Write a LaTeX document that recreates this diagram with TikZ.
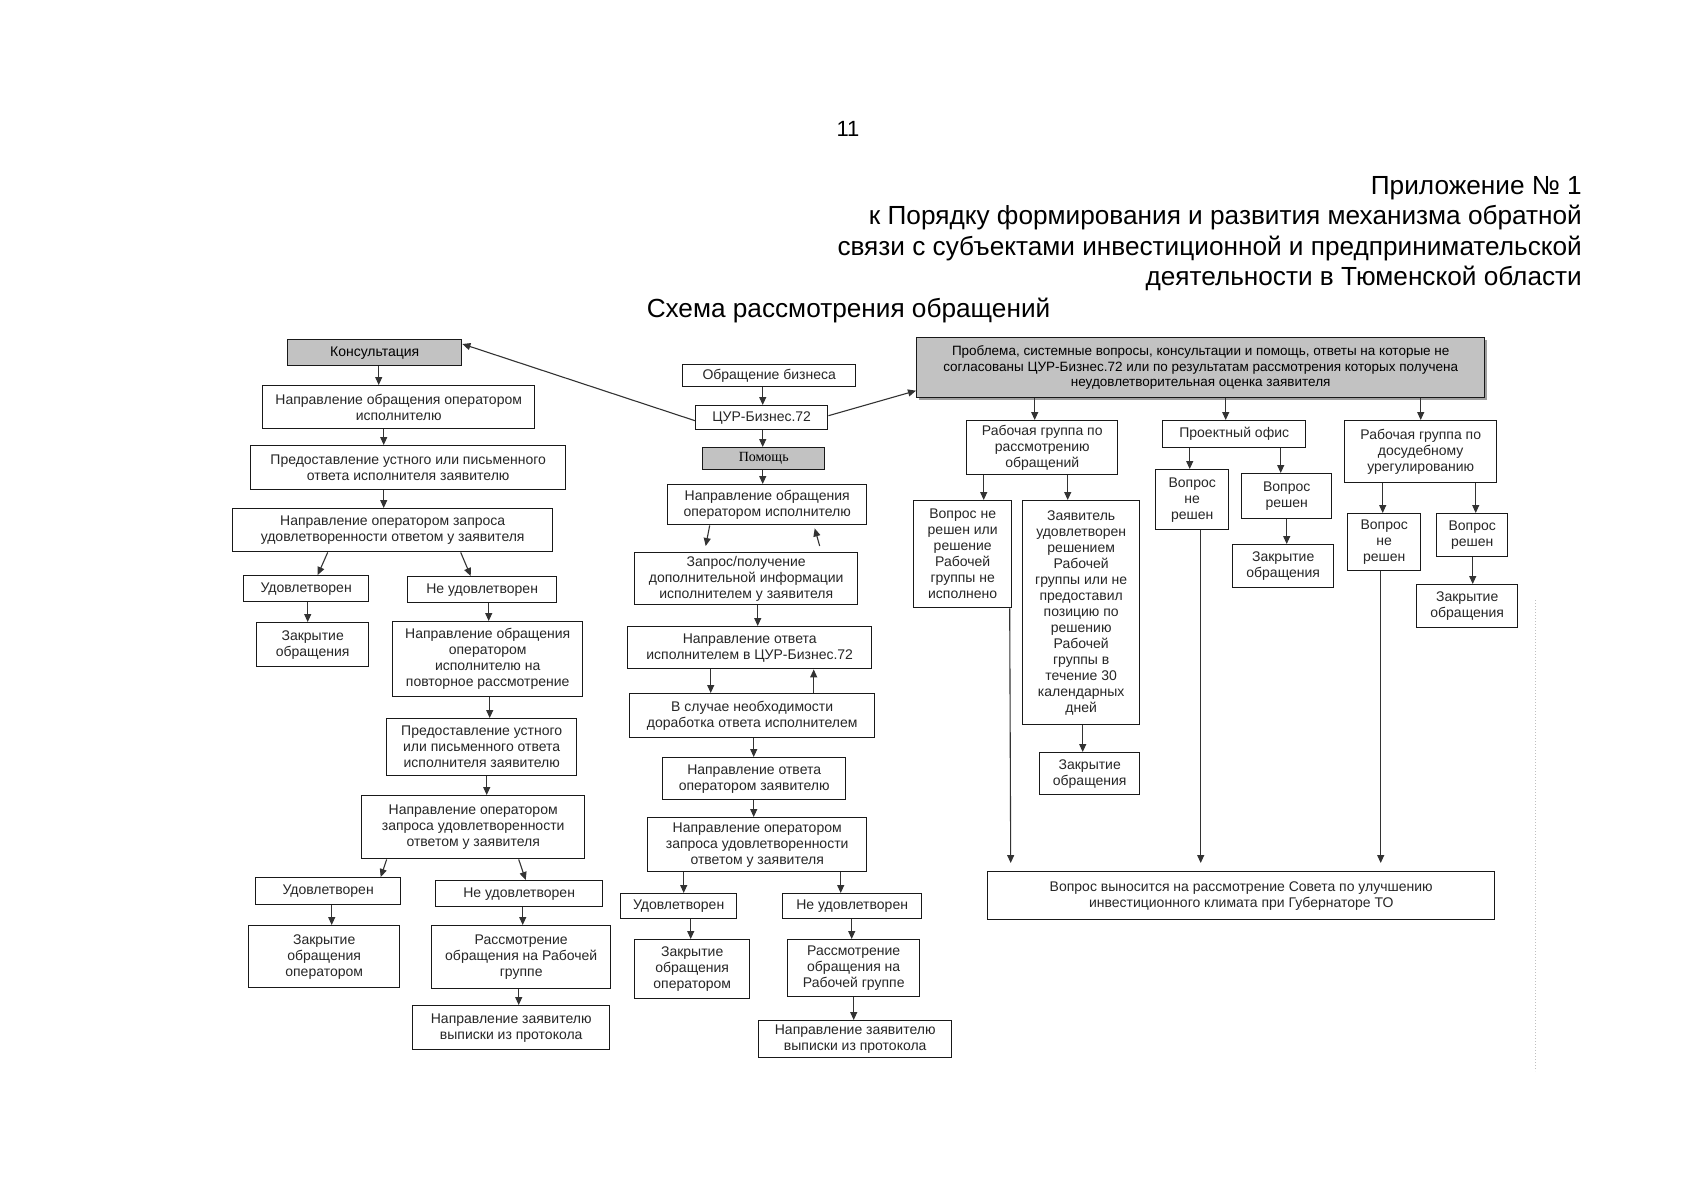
\documentclass[tikz,border=0pt]{standalone}
\usepackage{fontspec}
\setmainfont{Liberation Sans}
\newfontfamily\pomfont{Liberation Serif}
\usetikzlibrary{arrows.meta,shadows}
\tikzset{
 box/.style={draw=black!90, line width=1.4pt, fill=white, align=center, inner sep=1pt, font=\fontsize{14}{16}\selectfont, text=black!85},
 graybox/.style={box, fill=black!24, text=black},
 arr/.style={draw=black!80, line width=1.1pt, -{Triangle[length=8pt,width=7pt]}},
 hdr/.style={font=\fontsize{26.2}{30.4}\selectfont, inner sep=0pt},
}
\newcommand{\bxn}[7][]{\node[box,#1,anchor=north west,minimum width={(#5-#3)*1pt},minimum height={(#6-#4)*1pt}] (#2) at (#3,#4) {#7};}
\begin{document}
\begin{tikzpicture}[x=1pt,y=-1pt]
\fill[white] (0,0) rectangle (1697,1200);
\useasboundingbox (0,0) rectangle (1697,1200);

% header
\node[font=\fontsize{22}{26}\selectfont, inner sep=0pt] (pg) at (848,129) {11};
\node[hdr, anchor=east, align=right] (app) at (1582,233.7) {Приложение № 1\\к Порядку формирования и развития механизма обратной\\связи с субъектами инвестиционной и предпринимательской\\деятельности в Тюменской области};
\node[hdr] (title) at (848.5,310.3) {Схема рассмотрения обращений};

% left column
\bxn[graybox]{kons}{287}{339}{461}{365}{Консультация}
\bxn{l1}{262}{385}{534}{428}{Направление обращения оператором\\исполнителю}
\bxn{l2}{250}{445}{565}{489}{Предоставление устного или письменного\\ответа исполнителя заявителю}
\bxn{l3}{232}{508}{552}{551}{Направление оператором запроса\\удовлетворенности ответом у заявителя}
\bxn{l4}{243}{575}{368}{601}{Удовлетворен}
\bxn{l5}{407}{576}{556}{602}{Не удовлетворен}
\bxn{l6}{256}{622}{368}{666}{Закрытие\\обращения}
\bxn{l7}{392}{621}{582}{696}{Направление обращения\\оператором\\исполнителю на\\повторное рассмотрение}
\bxn{l8}{386}{718}{576}{775}{Предоставление устного\\или письменного ответа\\исполнителя заявителю}
\bxn{l9}{361}{795}{584}{858}{Направление оператором\\запроса удовлетворенности\\ответом у заявителя}
\bxn{l10}{255}{877}{400}{904}{Удовлетворен}
\bxn{l11}{435}{880}{602}{906}{Не удовлетворен}
\bxn{l12}{248}{925}{399}{987}{Закрытие\\обращения\\оператором}
\bxn{l13}{431}{925}{610}{988}{Рассмотрение\\обращения на Рабочей\\группе}
\bxn{l14}{412}{1005}{609}{1049}{Направление заявителю\\выписки из протокола}

% center column
\bxn{c0}{682}{364}{855}{386}{Обращение бизнеса}
\bxn{cur}{695}{405}{827}{429}{ЦУР-Бизнес.72}
\bxn[graybox,font=\pomfont\fontsize{14}{16}\selectfont]{pom}{702}{447}{824}{469}{Помощь}
\bxn{c1}{667}{484}{866}{524}{Направление обращения\\оператором исполнителю}
\bxn{c2}{634}{552}{857}{604}{Запрос/получение\\дополнительной информации\\исполнителем у заявителя}
\bxn{c3}{627}{626}{871}{668}{Направление ответа\\исполнителем в ЦУР-Бизнес.72}
\bxn{c4}{629}{693}{874}{737}{В случае необходимости\\доработка ответа исполнителем}
\bxn{c5}{662}{757}{845}{799}{Направление ответа\\оператором заявителю}
\bxn{c6}{647}{817}{866}{871}{Направление оператором\\запроса удовлетворенности\\ответом у заявителя}
\bxn{c7}{620}{893}{736}{918}{Удовлетворен}
\bxn{c8}{782}{893}{921}{918}{Не удовлетворен}
\bxn{c9}{634}{939}{749}{998}{Закрытие\\обращения\\оператором}
\bxn{c10}{787}{939}{919}{996}{Рассмотрение\\обращения на\\Рабочей группе}
\bxn{c11}{758}{1020}{951}{1057}{Направление заявителю\\выписки из протокола}

% right part
\bxn[graybox,font=\fontsize{13.5}{15.7}\selectfont,drop shadow={shadow xshift=2.5pt,shadow yshift=-2.5pt,fill=black!75}]{prob}{916}{337}{1484}{397}{Проблема, системные вопросы, консультации и помощь, ответы на которые не\\согласованы ЦУР-Бизнес.72 или по результатам рассмотрения которых получена\\неудовлетворительная оценка заявителя}
\bxn{r1}{966}{420}{1117}{474}{Рабочая группа по\\рассмотрению\\обращений}
\bxn{r2}{1162}{420}{1305}{447}{Проектный офис}
\bxn{r3}{1344}{420}{1496}{482}{Рабочая группа по\\досудебному\\урегулированию}
\bxn{r4}{913}{500}{1011}{607}{Вопрос не\\решен или\\решение\\Рабочей\\группы не\\исполнено}
\bxn{r5}{1022}{500}{1139}{724}{Заявитель\\удовлетворен\\решением\\Рабочей\\группы или не\\предоставил\\позицию по\\решению\\Рабочей\\группы в\\течение 30\\календарных\\дней}
\bxn{r6}{1039}{752}{1139}{794}{Закрытие\\обращения}
\bxn{r7}{1155}{469}{1228}{529}{Вопрос\\не\\решен}
\bxn{r8}{1241}{473}{1331}{518}{Вопрос\\решен}
\bxn{r9}{1232}{544}{1333}{587}{Закрытие\\обращения}
\bxn{r10}{1347}{513}{1420}{570}{Вопрос\\не\\решен}
\bxn{r11}{1436}{513}{1507}{556}{Вопрос\\решен}
\bxn{r12}{1416}{584}{1517}{627}{Закрытие\\обращения}
\bxn{sov}{987}{871}{1494}{919}{Вопрос выносится на рассмотрение Совета по улучшению\\инвестиционного климата при Губернаторе ТО}

% faint scan edge
\draw[black!25, line width=1pt, dotted] (1535,600) -- (1535,1071);

% connectors: left
\draw[arr] ([yshift=-3pt]cur.west) -- ([yshift=-5pt]kons.north east);
\draw[arr] ([xshift=4pt]kons.south) -- ([xshift=-20pt]l1.north);
\draw[arr] ([xshift=-15pt]l1.south) -- ([xshift=-24.5pt]l2.north);
\draw[arr] ([xshift=-24.5pt]l2.south) -- ([xshift=-9pt]l3.north);
\draw[arr] ([xshift=-65pt]l3.south) -- ([xshift=11.5pt]l4.north);
\draw[arr] ([xshift=68pt]l3.south) -- ([xshift=-11.5pt]l5.north);
\draw[arr] ([xshift=1.5pt]l4.south) -- ([xshift=-5pt]l6.north);
\draw[arr] ([xshift=6.5pt]l5.south) -- ([xshift=1pt]l7.north);
\draw[arr] ([xshift=2pt]l7.south) -- ([xshift=8pt]l8.north);
\draw[arr] ([xshift=5pt]l8.south) -- ([xshift=13.5pt]l9.north);
\draw[arr] ([xshift=-86.5pt]l9.south) -- ([xshift=52.5pt]l10.north);
\draw[arr] ([xshift=45.5pt]l9.south) -- ([xshift=6.5pt]l11.north);
\draw[arr] ([xshift=3.5pt]l10.south) -- ([xshift=7.5pt]l12.north);
\draw[arr] ([xshift=3.5pt]l11.south) -- ([xshift=1.5pt]l13.north);
\draw[arr] ([xshift=-2.5pt]l13.south) -- ([xshift=7.5pt]l14.north);

% connectors: center
\draw[arr] ([xshift=-6.5pt]c0.south) -- ([xshift=1pt]cur.north);
\draw[arr] ([xshift=1pt]cur.south) -- ([xshift=-1pt]pom.north);
\draw[arr] ([xshift=-1pt]pom.south) -- ([xshift=-4.5pt]c1.north);
\draw[arr] ([xshift=-57.5pt]c1.south) -- ([xshift=-40.5pt,yshift=6pt]c2.north);
\draw[arr] ([xshift=73.5pt,yshift=6pt]c2.north) -- ([xshift=47.5pt,yshift=-3pt]c1.south);
\draw[arr] ([xshift=11.5pt]c2.south) -- ([xshift=8pt]c3.north);
\draw[arr] ([xshift=-39pt]c3.south) -- ([xshift=-41.5pt]c4.north);
\draw[arr] ([xshift=61.5pt]c4.north) -- ([xshift=64pt]c3.south);
\draw[arr] ([xshift=1.5pt]c4.south) -- ([xshift=-0.5pt]c5.north);
\draw[arr] ([xshift=-0.5pt]c5.south) -- ([xshift=-3.5pt]c6.north);
\draw[arr] ([xshift=-73.5pt]c6.south) -- ([xshift=5pt]c7.north);
\draw[arr] ([xshift=83.5pt]c6.south) -- ([xshift=-11.5pt]c8.north);
\draw[arr] ([xshift=12pt]c7.south) -- ([xshift=-1.5pt]c9.north);
\draw[arr] ([xshift=-0.5pt]c8.south) -- ([xshift=-2pt]c10.north);
\draw[arr] (c10.south) -- ([xshift=-1.5pt]c11.north);
\draw[arr] ([yshift=2pt]cur.east) -- ([yshift=-23pt]prob.west);

% connectors: right
\draw[arr] ([xshift=-166pt]prob.south) -- ([xshift=-7.5pt]r1.north);
\draw[arr] ([xshift=25pt]prob.south) -- ([xshift=-8.5pt]r2.north);
\draw[arr] ([xshift=220pt]prob.south) -- (r3.north);
\draw[arr] ([xshift=-58.5pt]r1.south) -- ([xshift=21pt]r4.north);
\draw[arr] ([xshift=25.5pt]r1.south) -- ([xshift=-13.5pt]r5.north);
\draw[arr] ([xshift=1.5pt]r5.south) -- ([xshift=-7pt]r6.north);
\draw[arr] ([xshift=-44.5pt]r2.south) -- ([xshift=-2.5pt]r7.north);
\draw[arr] ([xshift=46.5pt]r2.south) -- ([xshift=-6pt]r8.north);
\draw[arr] (r8.south) -- ([xshift=3.5pt]r9.north);
\draw[arr] ([xshift=-38pt]r3.south) -- ([xshift=-1.5pt]r10.north);
\draw[arr] ([xshift=55pt]r3.south) -- ([xshift=3.5pt]r11.north);
\draw[arr] ([xshift=0.5pt]r11.south) -- ([xshift=5.5pt]r12.north);
\draw[arr] ([xshift=47pt]r4.south) -- ([xshift=-230.5pt,yshift=8pt]sov.north);
\draw[arr] ([xshift=8.5pt]r7.south) -- ([xshift=-40.5pt,yshift=8pt]sov.north);
\draw[arr] ([xshift=-3.5pt]r10.south) -- ([xshift=139.5pt,yshift=8pt]sov.north);
\end{tikzpicture}
\end{document}
